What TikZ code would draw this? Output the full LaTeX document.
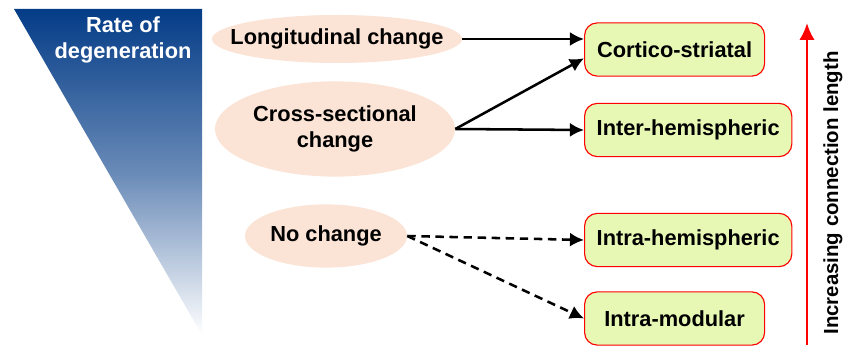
\documentclass[tikz,border=0pt]{standalone}
\usepackage{fontspec}
\setmainfont{Liberation Sans}
\usetikzlibrary{shapes.geometric, arrows, arrows.meta, positioning, calc}

\definecolor{peach}{RGB}{251,228,214}
\definecolor{limebox}{RGB}{230,248,180}
\definecolor{darkblue}{RGB}{4,60,135}

\begin{document}
\begin{tikzpicture}[x=0.025cm, y=-0.025cm, font=\bfseries\fontsize{15.5}{18.5}\selectfont]
    \tikzstyle{change} = [ellipse, fill=peach, text centered, align=center, inner xsep=-0.5cm, inner ysep=0pt]
    \tikzstyle{conn} = [rectangle, rounded corners=9pt, minimum height=1.33cm, anchor=west, draw=red, line width=0.8pt, fill=limebox, text centered]
    \tikzstyle{arrow} = [line width=1.8pt, -{Latex[length=10pt, width=10pt]}]
    \tikzstyle{dasharrow} = [arrow, dash pattern=on 6pt off 4pt]

    \useasboundingbox (0,0) rectangle (844,346);

    % degeneration wedge
    \shade[top color=darkblue, bottom color=white, middle color=darkblue!60!white]
        (14,9) -- (202,9) -- (202,335) -- cycle;
    \node[text=white, align=center] (rate) at (123,40) {Rate of\\degeneration};

    \node[change, minimum width=6.25cm, minimum height=1.2cm] (long) at (337,39) {Longitudinal change};
    \node[change, minimum width=6cm, minimum height=2.38cm] (cross) at (335,129) {Cross-sectional\\change};
    \node[change, minimum width=4.05cm, minimum height=1.58cm] (none) at (326,236) {No change};

    \node[conn, minimum width=4.5cm] (cortico) at (584,49.5) {Cortico-striatal};
    \node[conn, minimum width=5.18cm] (inter) at (584,130) {Inter-hemispheric};
    \node[conn, minimum width=5.18cm] (intra) at (584,240) {Intra-hemispheric};
    \node[conn, minimum width=4.5cm] (modular) at (584,318.5) {Intra-modular};

    \draw[arrow] (long.east) -- (long.east -| cortico.west);
    \draw[arrow] (cross.east) -- ([yshift=-0.22cm]cortico.west);
    \draw[arrow] (cross.east) -- (inter.west);
    \draw[dasharrow] (none.east) -- (intra.west);
    \draw[dasharrow] (none.east) -- (modular.west);

    % connection length axis
    \coordinate (axisbot) at (807,345);
    \coordinate (axistop) at (807,23);
    \draw[red, line width=2pt, -{Latex[length=12pt, width=11pt]}] (axisbot) -- (axistop);
    \node[rotate=90, font=\bfseries\fontsize{14.5}{17}\selectfont] (length) at (833,193) {Increasing connection length};
\end{tikzpicture}
\end{document}
